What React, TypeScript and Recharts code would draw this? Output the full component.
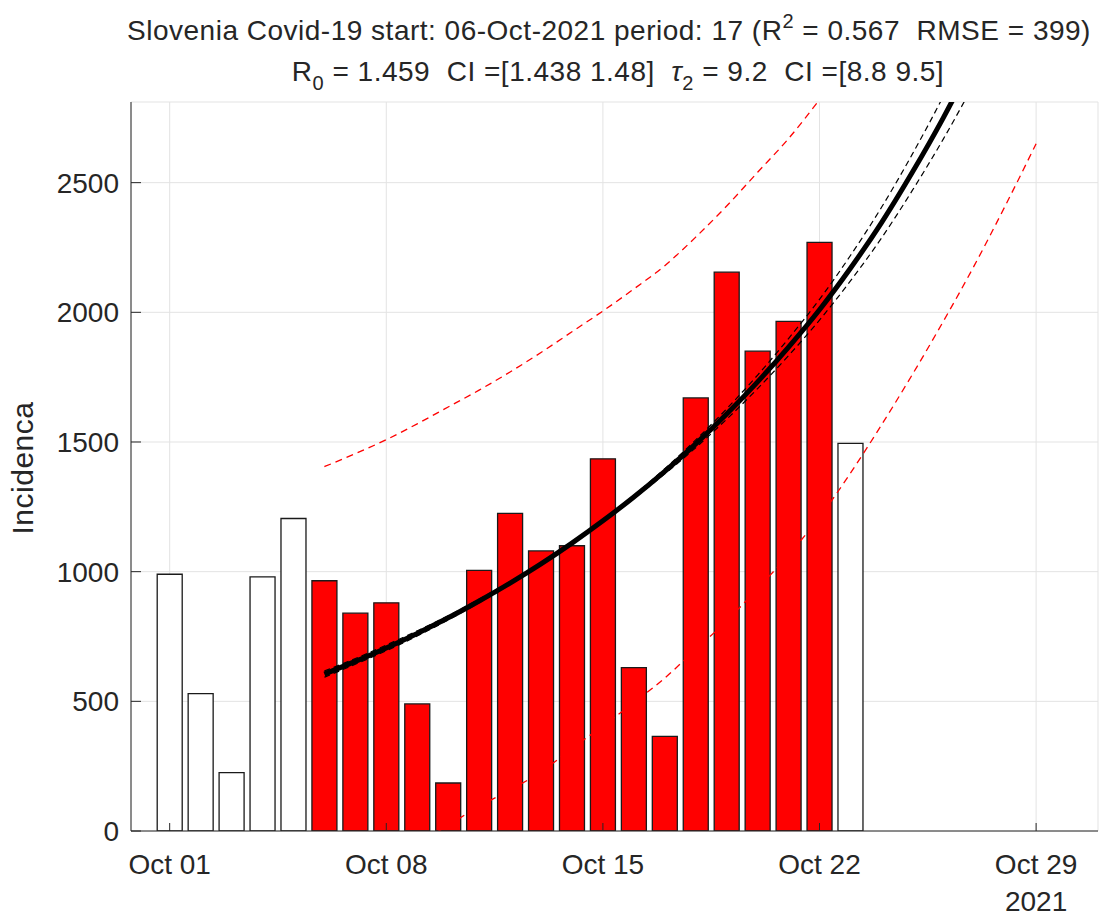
import { ComposedChart, Bar, Line, XAxis, YAxis, CartesianGrid, Cell } from 'recharts'

// day 0 = Oct 01 2021
const days = [0, 1, 2, 3, 4, 5, 6, 7, 8, 9, 10, 11, 12, 13, 14, 15, 16, 17, 18, 19, 20, 21, 22, 23, 24, 25, 26, 27, 28]

const incidence = [990, 530, 225, 980, 1205, 965, 840, 880, 490, 185, 1005, 1225, 1080, 1100, 1435, 630, 365, 1670, 2155, 1850, 1965, 2270, 1495]
const fitStart = 5
const fitEnd = 21

// exponential fit, days 5..26
const fitDays = [5, 6, 7, 8, 9, 10, 11, 12, 13, 14, 15, 16, 17, 18, 19, 20, 21, 22, 23, 24, 25, 26]
const fit = [605, 654, 706, 762, 822, 887, 956, 1030, 1110, 1196, 1288, 1387, 1493, 1608, 1732, 1866, 2010, 2170, 2345, 2540, 2750, 2980]
const fitCiA = [593, 643, 695, 752, 814, 880, 951, 1027, 1110, 1199, 1294, 1397, 1508, 1628, 1758, 1899, 2050, 2219, 2404, 2610, 2833, 3077]
const fitCiB = [617, 665, 717, 772, 830, 894, 961, 1033, 1110, 1193, 1282, 1377, 1478, 1588, 1706, 1833, 1970, 2121, 2286, 2470, 2668, 2883]

// prediction bounds
const upperDays = [5, 6, 7, 8, 9, 10, 11, 12, 13, 14, 15, 16, 17, 18, 19, 20, 21, 22]
const upper = [1405, 1455, 1509, 1570, 1635, 1700, 1770, 1845, 1925, 2005, 2090, 2180, 2290, 2410, 2540, 2670, 2820, 2980]
const lowerDays = [8, 9, 10, 11, 12, 13, 14, 15, 16, 17, 18, 19, 20, 21, 22, 23, 24, 25, 26, 27, 28]
const lower = [-50, 22, 95, 158, 228, 318, 405, 495, 590, 700, 810, 935, 1065, 1210, 1380, 1565, 1760, 1965, 2180, 2410, 2650]

const xTicks = [0, 7, 14, 21, 28]
const xLabels = ['Oct 01', 'Oct 08', 'Oct 15', 'Oct 22', 'Oct 29']
const yTicks = [0, 500, 1000, 1500, 2000, 2500]

const pick = (ds: number[], vs: number[], d: number) => {
  const i = ds.indexOf(d)
  return i < 0 ? undefined : vs[i]
}

const data = days.map((d) => ({
  day: d,
  cases: d < incidence.length ? incidence[d] : undefined,
  fit: pick(fitDays, fit, d),
  ciA: pick(fitDays, fitCiA, d),
  ciB: pick(fitDays, fitCiB, d),
  upper: pick(upperDays, upper, d),
  lower: pick(lowerDays, lower, d),
}))

const FONT = '"Liberation Sans", Arial, sans-serif'
const INK = '#262626'

function XTick(props: any) {
  const { x, y, payload } = props
  const i = xTicks.indexOf(payload.value)
  return (
    <g>
      <text x={x} y={y + 20} textAnchor="middle" fontSize={28} fill={INK} fontFamily={FONT}>
        {xLabels[i]}
      </text>
      {payload.value === 28 && (
        <text x={x} y={y + 57} textAnchor="middle" fontSize={28} fill={INK} fontFamily={FONT}>
          2021
        </text>
      )}
    </g>
  )
}

export default function App() {
  return (
    <div style={{ position: 'absolute', left: 0, top: 0, width: 1109, height: 916, background: '#fff' }}>
      <ComposedChart width={1109} height={916} data={data} margin={{ top: 102, right: 11, bottom: 0, left: 0 }}>
        <CartesianGrid stroke="#e3e3e3" strokeWidth={1} />
        <XAxis
          dataKey="day"
          type="number"
          domain={[-1.25, 30]}
          allowDataOverflow
          ticks={xTicks}
          height={85}
          stroke={INK}
          tickSize={-8}
          tickMargin={31}
          tick={<XTick />}
          interval={0}
        />
        <YAxis
          type="number"
          domain={[0, 2811]}
          allowDataOverflow
          ticks={yTicks}
          width={131}
          stroke={INK}
          tickSize={-10}
          tickMargin={22}
          tick={{ fontSize: 28, fill: INK, fontFamily: FONT }}
          interval={0}
        />
        <Bar dataKey="cases" barSize={25} stroke="#1a1a1a" strokeWidth={1.3} isAnimationActive={false}>
          {data.map((e, i) => (
            <Cell key={`c-${i}`} fill={e.day >= fitStart && e.day <= fitEnd ? '#ff0000' : '#ffffff'} />
          ))}
        </Bar>
        <Line dataKey="upper" type="monotone" stroke="#ff0000" strokeWidth={1.3} strokeDasharray="7 5" dot={false} activeDot={false} isAnimationActive={false} />
        <Line dataKey="lower" type="monotone" stroke="#ff0000" strokeWidth={1.3} strokeDasharray="7 5" dot={false} activeDot={false} isAnimationActive={false} />
        <Line dataKey="fit" type="monotone" stroke="#000000" strokeWidth={5} dot={false} activeDot={false} isAnimationActive={false} />
        <Line dataKey="ciA" type="monotone" stroke="#000000" strokeWidth={1.2} strokeDasharray="6 4" dot={false} activeDot={false} isAnimationActive={false} />
        <Line dataKey="ciB" type="monotone" stroke="#000000" strokeWidth={1.2} strokeDasharray="6 4" dot={false} activeDot={false} isAnimationActive={false} />
      </ComposedChart>
      <svg width={1109} height={916} style={{ position: 'absolute', left: 0, top: 0, pointerEvents: 'none' }}>
        <text x={609} y={40} textAnchor="middle" fontSize={28} letterSpacing={0.5} fill={INK} fontFamily={FONT} style={{ whiteSpace: 'pre' }}>
          {'Slovenia Covid-19 start: 06-Oct-2021 period: 17 (R'}
          <tspan fontSize={20} dy={-12}>2</tspan>
          <tspan dy={12}>{' = 0.567  RMSE = 399)'}</tspan>
        </text>
        <text x={618} y={81} textAnchor="middle" fontSize={28} letterSpacing={0.5} fill={INK} fontFamily={FONT} style={{ whiteSpace: 'pre' }}>
          R<tspan fontSize={20} dy={9}>0</tspan>
          <tspan dy={-9}>{' = 1.459  CI =[1.438 1.48]  '}</tspan>
          <tspan fontStyle="italic">τ</tspan>
          <tspan fontSize={20} dy={9}>2</tspan>
          <tspan dy={-9}>{' = 9.2  CI =[8.8 9.5]'}</tspan>
        </text>
        <text x={33} y={468} textAnchor="middle" fontSize={30} letterSpacing={0.5} fill={INK} fontFamily={FONT} transform="rotate(-90 33 468)">
          Incidenca
        </text>
      </svg>
    </div>
  )
}
